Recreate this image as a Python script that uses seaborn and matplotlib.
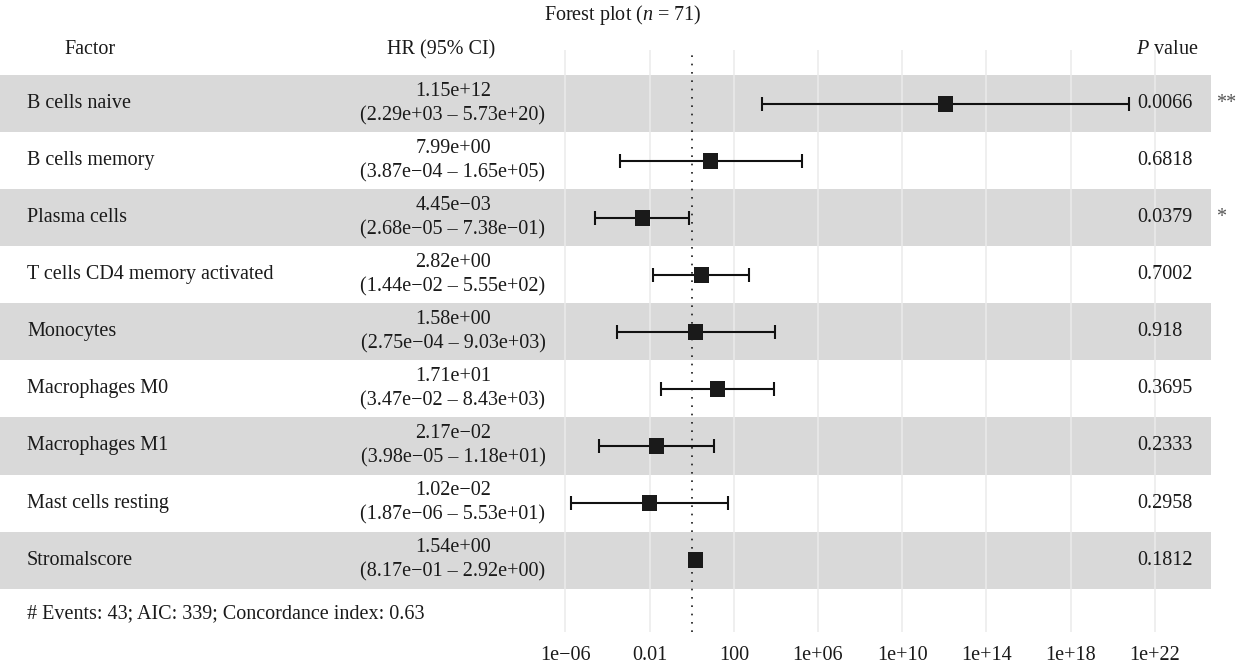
import numpy as np
import pandas as pd
import matplotlib
matplotlib.use('Agg')
import matplotlib.pyplot as plt
import matplotlib.transforms as mtransforms
import seaborn as sns

# values
factors = ['B cells naive', 'B cells memory', 'Plasma cells', 'T cells CD4 memory activated',
           'Monocytes', 'Macrophages M0', 'Macrophages M1', 'Mast cells resting', 'Stromalscore']
hr = [1.15e12, 7.99e0, 4.45e-3, 2.82e0, 1.58e0, 1.71e1, 2.17e-2, 1.02e-2, 1.54e0]
ci_low = [2.29e3, 3.87e-4, 2.68e-5, 1.44e-2, 2.75e-4, 3.47e-2, 3.98e-5, 1.87e-6, 8.17e-1]
ci_high = [5.73e20, 1.65e5, 7.38e-1, 5.55e2, 9.03e3, 8.43e3, 1.18e1, 5.53e1, 2.92e0]
p_values = ['0.0066', '0.6818', '0.0379', '0.7002', '0.918', '0.3695', '0.2333', '0.2958', '0.1812']
stars = ['**', '', '*', '', '', '', '', '', '']
breaks = [1e-6, 1e-2, 1e2, 1e6, 1e10, 1e14, 1e18, 1e22]
break_labels = ['1e\u221206', '0.01', '100', '1e+06', '1e+10', '1e+14', '1e+18', '1e+22']
footer = '# Events: 43; AIC: 339; Concordance index: 0.63'

df = pd.DataFrame({'factor': factors, 'hr': hr, 'lo': ci_low, 'hi': ci_high})
df['row'] = np.arange(len(df))

sns.set_theme(style='white')
plt.rcParams['font.family'] = ['Liberation Serif', 'DejaVu Serif']
plt.rcParams['mathtext.fontset'] = 'custom'
plt.rcParams['mathtext.it'] = 'Liberation Serif:italic'
plt.rcParams['mathtext.rm'] = 'Liberation Serif'

W, H = 1246, 671
FS = 14.5
TXT = '#1a1a1a'

def sci(v):
    return f'{v:.2e}'.replace('-', '\u2212')

fig = plt.figure(figsize=(W / 100, H / 100), dpi=100)
ax = fig.add_axes([0, (H - 632) / H, 1211 / W, (632 - 50) / H])
ax.set_xscale('log')
ax.set_xlim(10 ** (-691.7 / 21.05), 10 ** ((1211 - 691.7) / 21.05))
ax.set_ylim(9.263, -0.947)

# alternating row bands
for r in df['row']:
    if r % 2 == 0:
        ax.axhspan(r - 0.5, r + 0.5, color='#d9d9d9', lw=0, zorder=1)

ax.set_xticks(breaks, break_labels, fontsize=FS, color=TXT)
ax.minorticks_off()
ax.tick_params(axis='x', length=0, pad=10)
ax.set_yticks([])
ax.set_axisbelow('line')
ax.grid(axis='x', color='#ebebeb', lw=1.1)
for s in ax.spines.values():
    s.set_visible(False)

ax.axvline(1, color='#1a1a1a', ls=(0, (1, 4)), lw=1.2, zorder=1.7)

ax.errorbar(df['hr'], df['row'], xerr=[df['hr'] - df['lo'], df['hi'] - df['hr']],
            fmt='none', ecolor='#111111', elinewidth=1.5, capsize=5, capthick=1.5, zorder=2)
sns.scatterplot(data=df, x='hr', y='row', marker='s', s=120, color='#1a1a1a',
                edgecolor='none', ax=ax, zorder=3, legend=False)
ax.set_xlabel('')
ax.set_ylabel('')

tr = mtransforms.blended_transform_factory(fig.transFigure, ax.transData)
for i, row in df.iterrows():
    ax.text(27 / W, i, row['factor'], transform=tr, ha='left', va='center',
            fontsize=FS, color=TXT)
    ax.text(453 / W, i - 0.215, sci(row['hr']), transform=tr, ha='center', va='center',
            fontsize=FS, color=TXT)
    ax.text(453 / W, i + 0.215, f"({sci(row['lo'])} \u2013 {sci(row['hi'])})", transform=tr,
            ha='center', va='center', fontsize=FS, color=TXT)
    ax.text(1137 / W, i, p_values[i], transform=tr, ha='left', va='center',
            fontsize=FS, color=TXT)
    if stars[i]:
        ax.text(1216 / W, i, stars[i], transform=tr, ha='left', va='center',
                fontsize=FS, color='#555555')

# headers, title, footer
fig.text(90 / W, 1 - 50 / H, 'Factor', ha='center', va='center', fontsize=FS, color=TXT)
fig.text(441 / W, 1 - 50 / H, 'HR (95% CI)', ha='center', va='center', fontsize=FS, color=TXT)
fig.text(1136 / W, 1 - 50 / H, r'$\it{P}$ value', ha='left', va='center', fontsize=FS, color=TXT)
fig.text(623 / W, 1 - 15 / H, r'Forest plot ($\it{n}$ = 71)', ha='center', va='center',
         fontsize=FS, color=TXT)
fig.text(27 / W, 1 - 614 / H, footer, ha='left', va='center', fontsize=FS, color=TXT)

fig.savefig('out.png', dpi=100, facecolor='white')
